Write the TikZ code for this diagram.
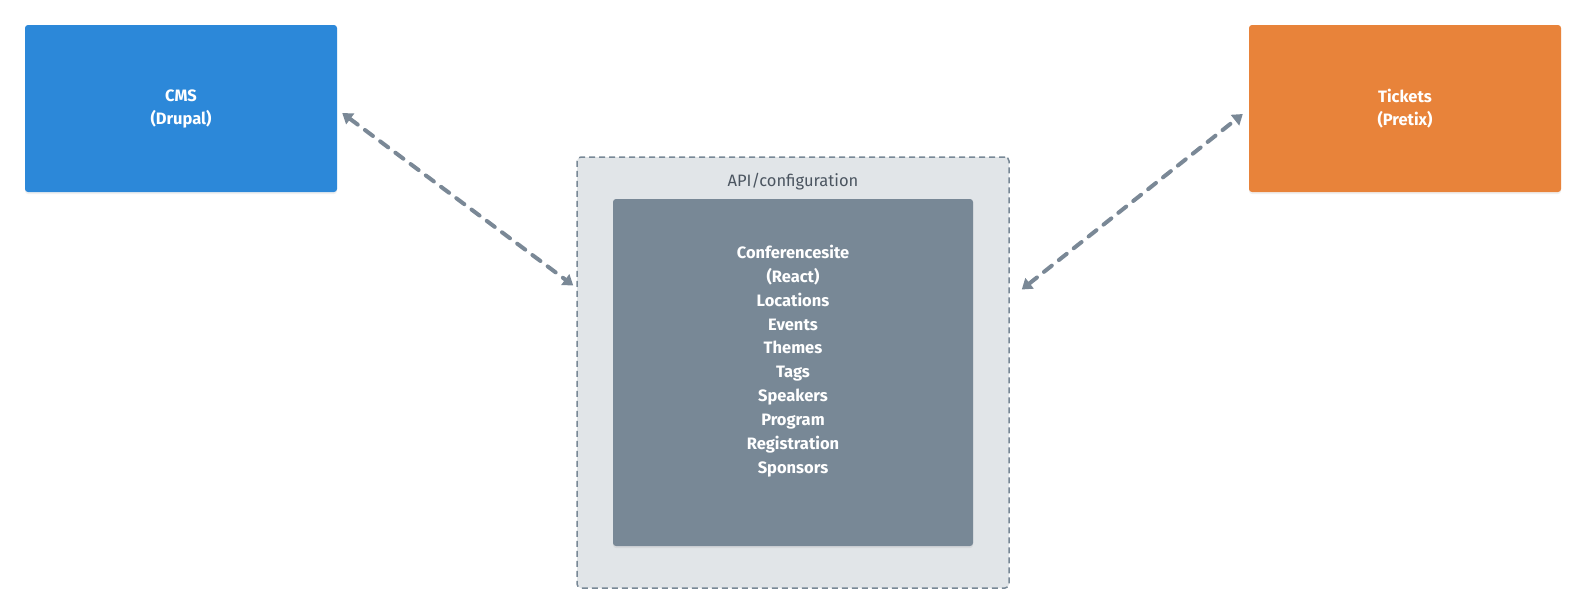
\documentclass[tikz,border=0pt]{standalone}
\usepackage{fontspec}
\setmainfont{Fira Sans}
\usetikzlibrary{arrows.meta,shadows,calc}
\definecolor{cmsblue}{HTML}{2C88D9}
\definecolor{tixorange}{HTML}{E8833A}
\definecolor{slate}{HTML}{788896}
\definecolor{paleslate}{HTML}{E1E5E8}
\definecolor{titlegray}{HTML}{4B5560}
\definecolor{arrowgray}{HTML}{7A8896}
\tikzset{
  sysbox/.style={rectangle, rounded corners=3pt, minimum width=312pt, minimum height=167pt,
    text=white, font=\bfseries\fontsize{16.5}{23}\selectfont, align=center,
    drop shadow={opacity=0.12, shadow xshift=0pt, shadow yshift=-2pt}},
  container/.style={rectangle, rounded corners=4pt, fill=paleslate, draw=slate,
    line width=1.5pt, dash pattern=on 6pt off 4pt, minimum width=432pt, minimum height=431pt},
  innerbox/.style={rectangle, rounded corners=3pt, fill=slate, minimum width=360pt, minimum height=347pt,
    drop shadow={opacity=0.12, shadow xshift=0pt, shadow yshift=-2pt}},
  link/.style={draw=arrowgray, line width=4pt, dash pattern=on 10pt off 9pt, line cap=round,
    {Triangle[length=10pt,width=13pt]}-{Triangle[length=10pt,width=13pt]}}
}
\begin{document}
\begin{tikzpicture}[x=1pt,y=-1pt]
\useasboundingbox (0,0) rectangle (1586,614);
\node[sysbox, fill=cmsblue] (cms) at (181,108.5) {CMS\\(Drupal)};
\node[sysbox, fill=tixorange] (tix) at (1405,108.5) {Tickets\\(Pretix)};
\node[container] (outer) at (793,372.5) {};
\node[text=titlegray, font=\fontsize{16.5}{20}\selectfont] (title) at (793,182) {API/configuration};
\node[innerbox] (inner) at (793,372.5) {};
\node[text=white, font=\bfseries\fontsize{16.5}{23.9}\selectfont, align=center] (site) at (793,361)
  {Conferencesite\\(React)\\Locations\\Events\\Themes\\Tags\\Speakers\\Program\\Registration\\Sponsors};
\draw[link] ($(cms.east)+(5,4.5)$) -- ($(outer.west)+(-3,-87)$);
\draw[link] ($(outer.east)+(12,-83)$) -- ($(tix.west)+(-6,5.5)$);
\end{tikzpicture}
\end{document}
